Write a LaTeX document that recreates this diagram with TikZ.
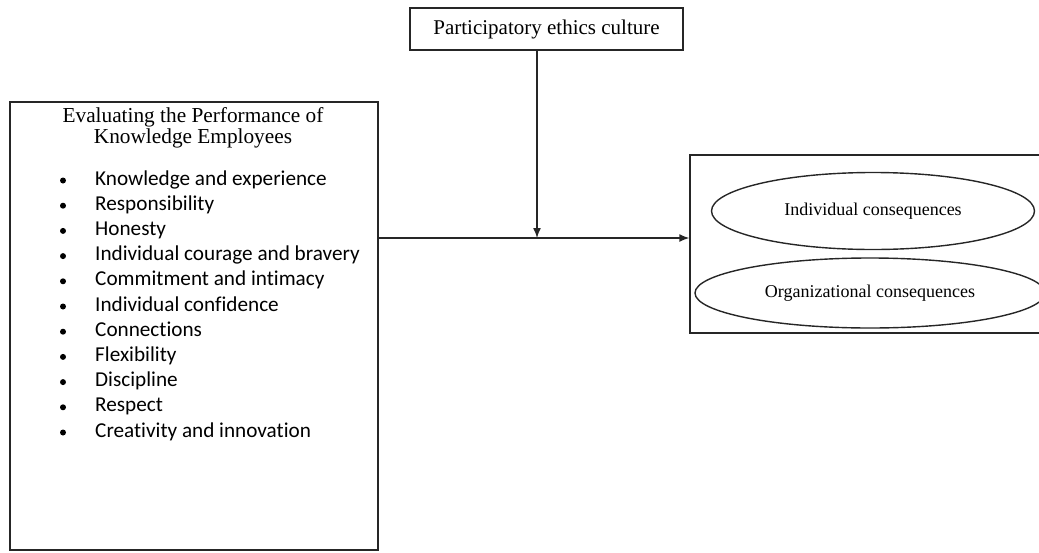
\documentclass[tikz,border=0pt]{standalone}
\usepackage{fontspec}
\setmainfont{Liberation Serif}
\newfontfamily\itemfont[Ligatures=NoCommon]{Carlito}
\usetikzlibrary{shapes.geometric, arrows.meta, positioning}

\tikzset{
  frame/.style={draw=black!85, line width=1.4pt, rectangle, inner sep=0pt},
  conseq/.style={draw=black!85, line width=1.4pt, ellipse, inner sep=0pt, font=\fontsize{18}{21}\selectfont},
  itemtext/.style={anchor=base west, inner sep=0pt, font=\itemfont\fontsize{21.2}{25}\selectfont},
  bulletdot/.style={circle, fill=black, inner sep=0pt, minimum size=6pt},
  link/.style={draw=black!85, line width=1.4pt, -{Latex[length=10pt,width=8pt]}}
}

\begin{document}
\begin{tikzpicture}[x=1pt,y=-1pt]
			\useasboundingbox (0,0) rectangle (1039,552);
			
			\node[frame, minimum width=273pt, minimum height=42pt, font=\fontsize{21}{24}\selectfont] (ethics) at (546.5,29) {Participatory ethics culture};
			\node[frame, minimum width=368pt, minimum height=448pt] (evalbox) at (194,326) {};
			\node[frame, minimum width=356pt, minimum height=178pt] (outbox) at (868,244) {};
			
			\node[align=center, font=\fontsize{21.3}{21}\selectfont] (evaltitle) at (193,128) {Evaluating the Performance of\\Knowledge Employees};
			
			\foreach \txt [count=\i] in {Knowledge and experience, Responsibility, Honesty,
				Individual courage and bravery, Commitment and intimacy, Individual confidence,
				Connections, Flexibility, Discipline, Respect, Creativity and innovation}{
				\node[itemtext] (item\i) at (95,185+25.2*\i-25.2) {\txt};
				\node[bulletdot] (dot\i) at (63,180.5+25.2*\i-25.2) {};
			}
			
			\node[conseq, minimum width=323pt, minimum height=77pt] (indiv) at (873,211) {Individual consequences};
			\node[conseq, minimum width=350pt, minimum height=70pt] (org) at (870,293) {Organizational consequences};
			
			\coordinate (junction) at (537,238);
			\draw[link] (evalbox.east |- junction) -- (outbox.west |- junction);
			\draw[link] (ethics.south -| junction) -- (junction);
		\end{tikzpicture}
\end{document}
